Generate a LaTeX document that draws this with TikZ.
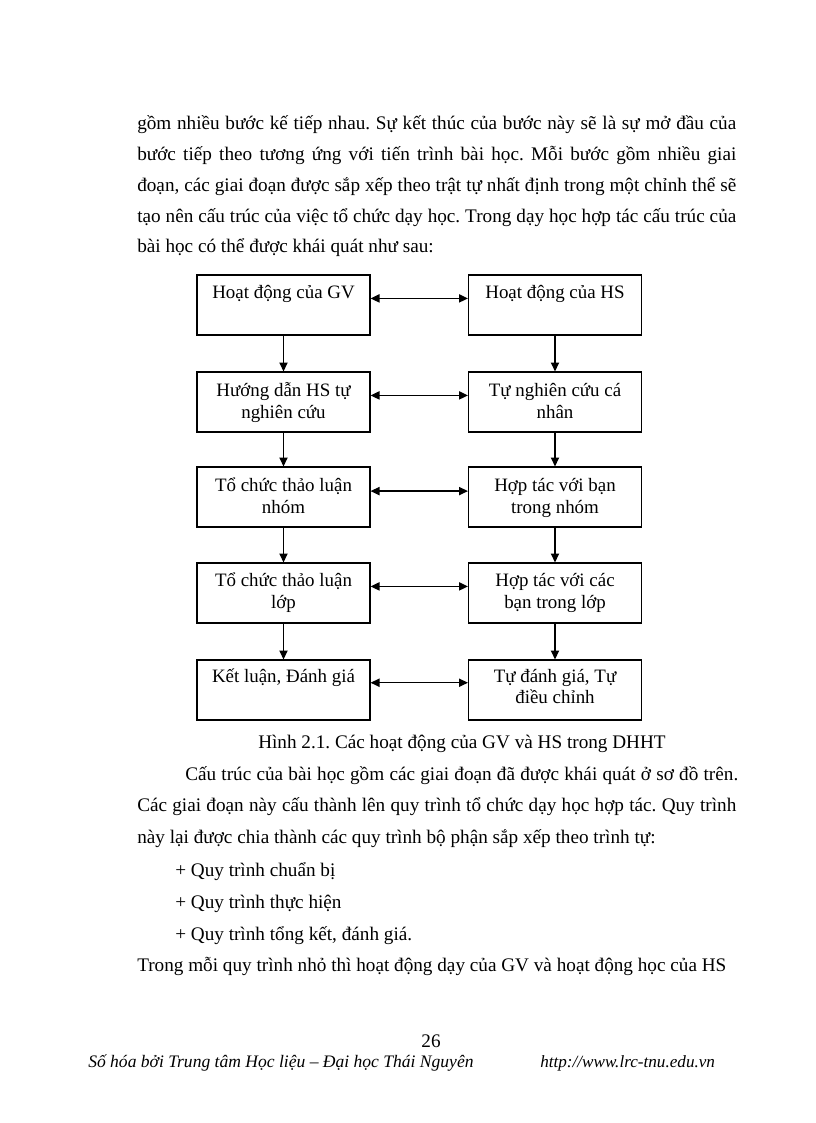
\documentclass[tikz,border=0pt]{standalone}
\usepackage{fontspec}
\setmainfont{Liberation Serif}
\usetikzlibrary{arrows.meta}
\frenchspacing
\begin{document}
\frenchspacing
\begin{tikzpicture}[x=0.72917pt, y=-0.72917pt,
  body/.style={anchor=base west, inner sep=0pt, font=\fontsize{14pt}{16pt}\selectfont},
  foot/.style={anchor=base west, inner sep=0pt, font=\fontsize{12.8pt}{15pt}\selectfont\itshape},
  url/.style={anchor=base west, inner sep=0pt, font=\fontsize{12.5pt}{14pt}\selectfont\itshape},
  box/.style={draw, line width=0.9pt, minimum width=126.1pt, minimum height=43.7pt, inner sep=0pt},
  lt/.style={anchor=base, inner sep=0pt, font=\fontsize{13.8pt}{16pt}\selectfont},
  conn/.style={line width=0.9pt, -{Triangle[length=6.5pt,width=6pt]}},
  dconn/.style={line width=0.9pt, {Triangle[length=6.5pt,width=6pt]}-{Triangle[length=6.5pt,width=6pt]}}]
\fill[white] (0,0) rectangle (816,1123);
\useasboundingbox (0,0) rectangle (816,1123);

% paragraph text above the diagram
\node[body] (p1) at (137,129) {\makebox[436.8pt][s]{gồm nhiều bước kế tiếp nhau. Sự kết thúc của bước này sẽ là sự mở đầu của}};
\node[body] (p2) at (137,160) {\makebox[436.8pt][s]{bước tiếp theo tương ứng với tiến trình bài học. Mỗi bước gồm nhiều giai}};
\node[body] (p3) at (137,191) {\makebox[436.8pt][s]{đoạn, các giai đoạn được sắp xếp theo trật tự nhất định trong một chỉnh thể sẽ}};
\node[body] (p4) at (137,222) {\makebox[436.8pt][s]{tạo nên cấu trúc của việc tổ chức dạy học. Trong dạy học hợp tác cấu trúc của}};
\node[body] (p5) at (137,252) {bài học có thể được khái quát như sau:};

% boxes
\node[box] (g1) at (283.5,305) {};
\node[box] (g2) at (283.5,402) {};
\node[box] (g3) at (283.5,497) {};
\node[box] (g4) at (283.5,593) {};
\node[box] (g5) at (283.5,690) {};
\node[box] (h1) at (555,305) {};
\node[box] (h2) at (555,402) {};
\node[box] (h3) at (555,497) {};
\node[box] (h4) at (555,593) {};
\node[box] (h5) at (555,690) {};

% box texts
\node[lt] (tg1) at ([yshift=-17.8pt]g1.north) {Hoạt động của GV};
\node[lt] (th1) at ([yshift=-17.8pt]h1.north) {Hoạt động của HS};
\node[lt] (tg2a) at ([yshift=-18.5pt]g2.north) {Hướng dẫn HS tự};
\node[lt] (tg2b) at ([yshift=-34pt]g2.north) {nghiên cứu};
\node[lt] (th2a) at ([yshift=-18.5pt]h2.north) {Tự nghiên cứu cá};
\node[lt] (th2b) at ([yshift=-34pt]h2.north) {nhân};
\node[lt] (tg3a) at ([yshift=-18.5pt]g3.north) {Tổ chức thảo luận};
\node[lt] (tg3b) at ([yshift=-34pt]g3.north) {nhóm};
\node[lt] (th3a) at ([yshift=-18.5pt]h3.north) {Hợp tác với bạn};
\node[lt] (th3b) at ([yshift=-34pt]h3.north) {trong nhóm};
\node[lt] (tg4a) at ([yshift=-17.8pt]g4.north) {Tổ chức thảo luận};
\node[lt] (tg4b) at ([yshift=-33.3pt]g4.north) {lớp};
\node[lt] (th4a) at ([yshift=-17.8pt]h4.north) {Hợp tác với các};
\node[lt] (th4b) at ([yshift=-33.3pt]h4.north) {bạn trong lớp};
\node[lt] (tg5) at ([yshift=-16.8pt]g5.north) {Kết luận, Đánh giá};
\node[lt] (th5a) at ([yshift=-16.8pt]h5.north) {Tự đánh giá, Tự};
\node[lt] (th5b) at ([yshift=-32pt]h5.north) {điều chỉnh};

% vertical arrows
\draw[conn] (g1) -- (g2);
\draw[conn] (g2) -- (g3);
\draw[conn] (g3) -- (g4);
\draw[conn] (g4) -- (g5);
\draw[conn] (h1) -- (h2);
\draw[conn] (h2) -- (h3);
\draw[conn] (h3) -- (h4);
\draw[conn] (h4) -- (h5);

% horizontal double arrows
\draw[dconn] ([yshift=-17.5pt]g1.north east) -- ([yshift=-17.5pt]h1.north west);
\draw[dconn] ([yshift=-17.5pt]g2.north east) -- ([yshift=-17.5pt]h2.north west);
\draw[dconn] ([yshift=-18pt]g3.north east) -- ([yshift=-18pt]h3.north west);
\draw[dconn] ([yshift=-17.5pt]g4.north east) -- ([yshift=-17.5pt]h4.north west);
\draw[dconn] ([yshift=-17pt]g5.north east) -- ([yshift=-17pt]h5.north west);

% caption
\node[body] (cap) at (258,748) {Hình 2.1. Các hoạt động của GV và HS trong DHHT};

% paragraph text below the diagram
\node[body] (q1) at (185,780) {\makebox[403.2pt][s]{Cấu trúc của bài học gồm các giai đoạn đã được khái quát ở sơ đồ trên.}};
\node[body] (q2) at (137,811.5) {\makebox[436.8pt][s]{Các giai đoạn này cấu thành lên quy trình tổ chức dạy học hợp tác. Quy trình}};
\node[body] (q3) at (137,843) {này lại được chia thành các quy trình bộ phận sắp xếp theo trình tự:};
\node[body] (q4) at (175,876) {+ Quy trình chuẩn bị};
\node[body] (q5) at (175,908) {+ Quy trình thực hiện};
\node[body] (q6) at (175,940) {+ Quy trình tổng kết, đánh giá.};
\node[body] (q7) at (137,971) {Trong mỗi quy trình nhỏ thì hoạt động dạy của GV và hoạt động học của HS};

% footer
\node[body, anchor=base] (pg) at (431,1047) {26};
\node[foot] (f1) at (88,1067) {Số hóa bởi Trung tâm Học liệu – Đại học Thái Nguyên};
\node[url] (f2) at (540,1067) {http://www.lrc-tnu.edu.vn};
\end{tikzpicture}
\end{document}
